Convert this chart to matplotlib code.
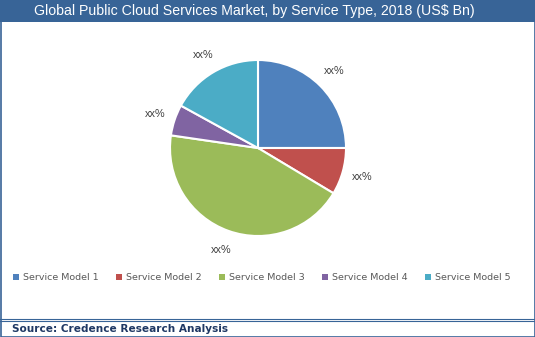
import matplotlib
matplotlib.use("Agg")
import matplotlib.pyplot as plt
from matplotlib.patches import Rectangle
from matplotlib.lines import Line2D

categories = ["Service Model 1", "Service Model 2", "Service Model 3",
              "Service Model 4", "Service Model 5"]
shares = [25.0, 8.6, 43.7, 5.7, 17.0]
slice_labels = ["xx%", "xx%", "xx%", "xx%", "xx%"]
colors = ["#4F81BD", "#C0504D", "#9BBB59", "#8064A2", "#4BACC6"]

W, H = 535, 337
fig = plt.figure(figsize=(W / 100, H / 100), dpi=100)
fig.patch.set_facecolor("white")

# title bar
fig.patches.append(Rectangle((0, 1 - 22 / H), 1, 22 / H, transform=fig.transFigure,
                             facecolor="#386497", edgecolor="none", zorder=0))
fig.text(0.476, 1 - 11.5 / H, "Global Public Cloud Services Market, by Service Type, 2018 (US$ Bn)",
         color="white", fontsize=10.2, family="Liberation Sans", ha="center", va="center")

# outer border
fig.patches.append(Rectangle((0.5 / W, 0.5 / H), 1 - 1 / W, 1 - 1 / H, transform=fig.transFigure,
                             facecolor="none", edgecolor="#386497", linewidth=1.2, zorder=5))
# source separator
for yy in (318.5, 320.5):
    fig.lines.append(Line2D([0, 1], [1 - yy / H, 1 - yy / H], transform=fig.transFigure,
                            color="#386497", linewidth=0.8))
fig.text(12 / W, 1 - 329.5 / H, "Source: Credence Research Analysis", color="#1F3864",
         fontsize=7.6, fontweight="bold", family="DejaVu Sans", ha="left", va="center")

# pie
cx, cy, r = 258, 148, 88
ax = fig.add_axes([(cx - r) / W, (H - cy - r) / H, 2 * r / W, 2 * r / H])
wedges, texts = ax.pie(shares, labels=slice_labels, colors=colors, startangle=90,
                       counterclock=False, labeldistance=1.23,
                       wedgeprops={"edgecolor": "white", "linewidth": 1.5},
                       textprops={"fontsize": 7.8, "color": "#404040",
                                  "family": "Liberation Sans"})
for t in texts:
    t.set_ha("center")
    t.set_va("center")
ax.set_xlim(-1, 1)
ax.set_ylim(-1, 1)
ax.set_aspect("equal")
ax.axis("off")

# legend
handles = [Rectangle((0, 0), 1, 1, facecolor=c, edgecolor="none") for c in colors]
fig.legend(handles, categories, loc="center", bbox_to_anchor=(0.49, 1 - 278 / H), ncol=5,
           frameon=False, handlelength=0.6, handleheight=0.6, handletextpad=0.45,
           columnspacing=1.85, prop={"family": "DejaVu Sans", "size": 6.8},
           labelcolor="#595959")

fig.savefig("out.png", dpi=100)
